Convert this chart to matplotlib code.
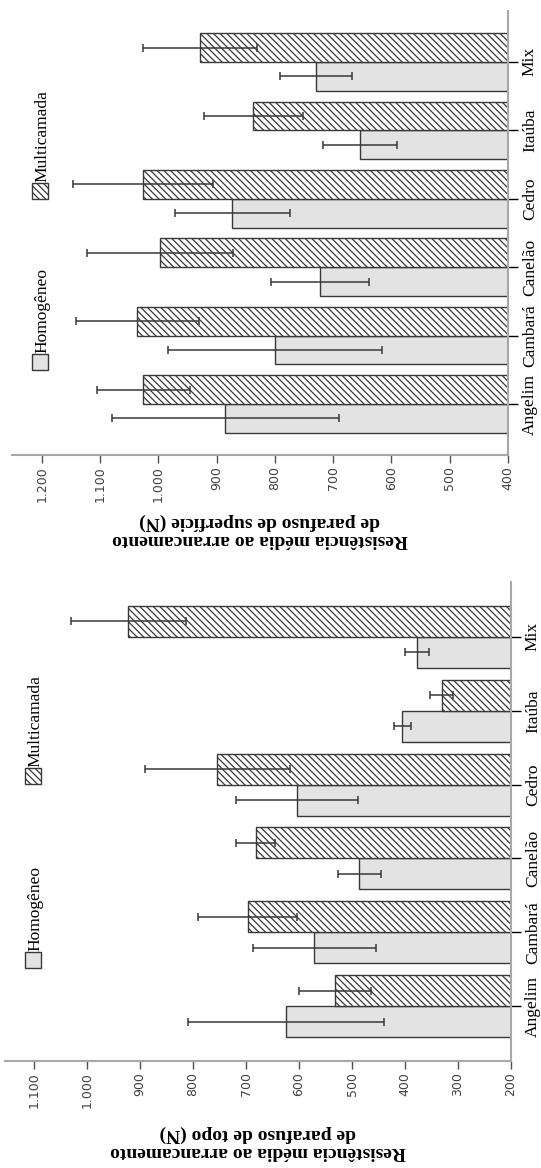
import numpy as np
import matplotlib.pyplot as plt
from matplotlib.patches import Rectangle

especies = ["Angelim", "Cambará", "Canelão", "Cedro", "Itaúba", "Mix"]

# Parafuso de topo (N)
topo_homo = [625, 571, 486, 604, 405, 378]
topo_homo_dp = [185, 116, 40, 115, 16, 23]
topo_multi = [533, 697, 682, 754, 331, 922]
topo_multi_dp = [68, 94, 37, 137, 22, 109]

# Parafuso de superfície (N)
sup_homo = [885, 800, 722, 873, 654, 729]
sup_homo_dp = [195, 183, 84, 99, 64, 62]
sup_multi = [1026, 1036, 997, 1026, 837, 928]
sup_multi_dp = [80, 105, 126, 120, 85, 98]

topo_ticks = list(range(200, 1101, 100))
sup_ticks = list(range(400, 1201, 100))

W, H = 541, 1168
SERIF = "Liberation Serif"
EDGE = "#383838"
FILL = "#e3e3e3"
HATCH = "\\" * 5

plt.rcParams["hatch.linewidth"] = 0.9
fig = plt.figure(figsize=(W / 100, H / 100), dpi=100)


def px_axes(x0, x1, y0, y1):
    # axes box given in pixels from the top-left corner
    return fig.add_axes([x0 / W, 1 - y1 / H, (x1 - x0) / W, (y1 - y0) / H])


def fmt(v):
    return f"{v:,}".replace(",", ".")


def painel(ax, homo, homo_dp, multi, multi_dp, ticks, xmax, titulo, pad):
    base = ticks[0]
    pos = np.arange(len(especies))
    h = 0.42
    ax.barh(pos - h / 2, np.array(homo) - base, left=base, height=h,
            color=FILL, edgecolor=EDGE, linewidth=1.0)
    ax.barh(pos + h / 2, np.array(multi) - base, left=base, height=h,
            color="white", edgecolor=EDGE, hatch=HATCH, linewidth=1.0)
    for vals, dp, off in [(homo, homo_dp, -h / 2), (multi, multi_dp, h / 2)]:
        ax.errorbar(vals, pos + off, xerr=dp, fmt="none", ecolor=EDGE,
                    elinewidth=1.1, capsize=3, capthick=1.1)

    ax.set_xlim(xmax, base)
    ax.set_ylim(-0.744, len(especies) - 1 + 0.744)

    ax.set_xticks(ticks)
    ax.set_xticklabels([fmt(t) for t in ticks], rotation=90,
                       fontfamily="DejaVu Sans")
    ax.tick_params(axis="x", length=6, width=1, color="#505050",
                   labelsize=9, labelcolor="#404040", pad=2)

    ax.yaxis.tick_right()
    ax.set_yticks(pos)
    ax.set_yticklabels(especies, rotation=90, va="center",
                       fontfamily=SERIF, fontsize=12.5)
    ax.tick_params(axis="y", length=7, width=1, color="black", pad=3)

    for s in ["top", "left"]:
        ax.spines[s].set_visible(False)
    for s in ["right", "bottom"]:
        ax.spines[s].set_color("#a8a8a8")
        ax.spines[s].set_linewidth(1.5)

    ax.set_xlabel(titulo, rotation=180, fontfamily=SERIF, fontweight="bold",
                  fontsize=14, linespacing=1.05, labelpad=pad)

    # legend drawn sideways along the left edge
    bb = ax.get_position()
    bw, bh = 16 / W, 16 / H
    bx = bb.x0 + 20 / W
    for frac, label, kw in [
        (0.21, "Homogêneo", dict(facecolor=FILL)),
        (0.595, "Multicamada", dict(facecolor="white", hatch=HATCH)),
    ]:
        by = bb.y0 + frac * bb.height
        fig.patches.append(Rectangle((bx, by - bh / 2), bw, bh,
                                     transform=fig.transFigure,
                                     edgecolor=EDGE, linewidth=1.0, **kw))
        fig.text(bx + bw / 2 + 2 / W, by + bh / 2 + 1 / H, label,
                 rotation=90, ha="center", va="bottom",
                 fontfamily=SERIF, fontsize=12.5)


ax_sup = px_axes(12, 508, 11, 455)
painel(ax_sup, sup_homo, sup_homo_dp, sup_multi, sup_multi_dp, sup_ticks,
       1251, "Resistência média ao arrancamento\nde parafuso de superfície (N)", 8)

ax_topo = px_axes(5, 511, 582, 1061)
painel(ax_topo, topo_homo, topo_homo_dp, topo_multi, topo_multi_dp, topo_ticks,
       1155, "Resistência média ao arrancamento\nde parafuso de topo (N)", 12)

fig.savefig("out.png", dpi=100)
